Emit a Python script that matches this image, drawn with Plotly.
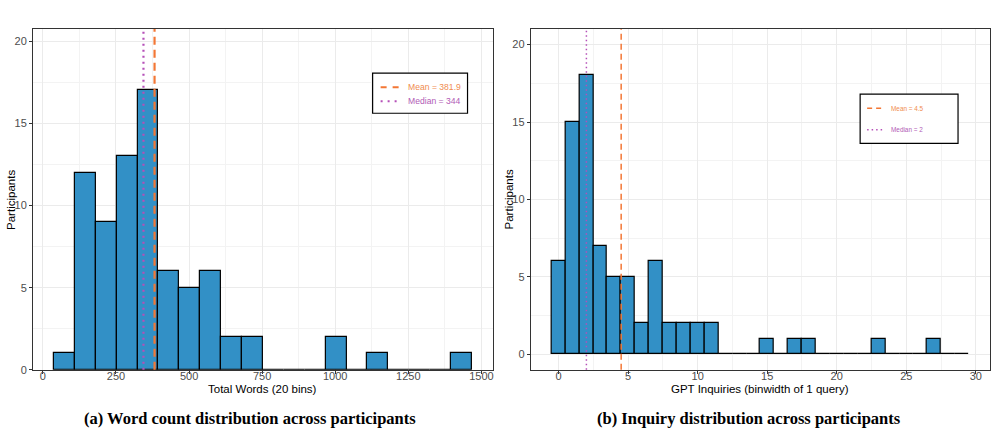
import plotly.graph_objects as go

# ---------------- data ----------------
word_bin_start = 37.6
word_bin_width = 71.5
word_counts = [1, 12, 9, 13, 17, 6, 5, 6, 2, 2, 0, 0, 0, 2, 0, 1, 0, 0, 0, 1]
word_mean = 381.9
word_median = 344

inq_bin_start = -0.5
inq_bin_width = 1
inq_counts = [6, 15, 18, 7, 5, 5, 2, 6, 2, 2, 2, 2, 0, 0, 0, 1, 0, 1, 1, 0,
              0, 0, 0, 1, 0, 0, 0, 1, 0, 0]
inq_mean = 4.5
inq_median = 2

word_xticks = [0, 250, 500, 750, 1000, 1250, 1500]
inq_xticks = [0, 5, 10, 15, 20, 25, 30]
y_ticks = [0, 5, 10, 15, 20]

captions = ["(a) Word count distribution across participants",
            "(b) Inquiry distribution across participants"]
x_titles = ["Total Words (20 bins)", "GPT Inquiries (binwidth of 1 query)"]

# ---------------- style ----------------
W = 998
H_REF = 433      # reference design height (positions measured in it)
H = 440          # figure height
BAR = "#3290C6"
ORANGE = "#F37735"
ORANGE_TXT = "#F08C50"
PURPLE = "#B550B8"
PURPLE_TXT = "#B25BB6"
SANS = "Liberation Sans, Arial, sans-serif"
SERIF = "Liberation Serif, Times New Roman, serif"


def px(x):
    return x / W


def py(y):
    return 1 - y / H_REF


def centers(start, width, n):
    return [start + width * (i + 0.5) for i in range(n)]


fig = go.Figure()

fig.add_trace(go.Bar(
    x=centers(word_bin_start, word_bin_width, len(word_counts)), y=word_counts,
    width=word_bin_width, marker=dict(color=BAR, line=dict(color="black", width=1.2)),
    xaxis="x", yaxis="y", showlegend=False))

fig.add_trace(go.Bar(
    x=centers(inq_bin_start, inq_bin_width, len(inq_counts)), y=inq_counts,
    width=inq_bin_width, marker=dict(color=BAR, line=dict(color="black", width=1.2)),
    xaxis="x2", yaxis="y2", showlegend=False))

shapes = []
shapes.append(dict(type="line", xref="x", yref="y domain", x0=word_median, x1=word_median,
                   y0=0, y1=1, line=dict(color=PURPLE, width=2.2, dash="2px,4px"), layer="above"))
shapes.append(dict(type="line", xref="x", yref="y domain", x0=word_mean, x1=word_mean,
                   y0=0, y1=1, line=dict(color=ORANGE, width=2.2, dash="8px,5px"), layer="above"))
shapes.append(dict(type="line", xref="x2", yref="y2 domain", x0=inq_median, x1=inq_median,
                   y0=0, y1=1, line=dict(color=PURPLE, width=1.5, dash="1.5px,3px"), layer="above"))
shapes.append(dict(type="line", xref="x2", yref="y2 domain", x0=inq_mean, x1=inq_mean,
                   y0=0, y1=1, line=dict(color=ORANGE, width=1.5, dash="6px,4px"), layer="above"))

annotations = []


def legend_box(x0, y0, x1, y1, entries, lx0, lx1, tx, fs, lw):
    shapes.append(dict(type="rect", xref="paper", yref="paper", x0=px(x0), x1=px(x1),
                       y0=py(y1), y1=py(y0), line=dict(color="black", width=1.2),
                       fillcolor="white", layer="above"))
    for (yy, col, tcol, dash, label) in entries:
        shapes.append(dict(type="line", xref="paper", yref="paper", x0=px(lx0), x1=px(lx1),
                           y0=py(yy), y1=py(yy), line=dict(color=col, width=lw, dash=dash),
                           layer="above"))
        annotations.append(dict(x=px(tx), y=py(yy), xref="paper", yref="paper", text=label,
                                showarrow=False, xanchor="left", yanchor="middle",
                                font=dict(family=SANS, size=fs, color=tcol)))


legend_box(373, 73, 468, 113,
           [(87, ORANGE, ORANGE_TXT, "6px,6px", f"Mean = {word_mean}"),
            (101, PURPLE, PURPLE_TXT, "2px,5px", f"Median = {word_median}")],
           381, 401, 406, 8.6, 2)
legend_box(861, 94, 959, 143,
           [(108, ORANGE, ORANGE_TXT, "5px,4px", f"Mean = {inq_mean}"),
            (129.5, PURPLE, PURPLE_TXT, "1.5px,3px", f"Median = {inq_median}")],
           868, 884, 890, 6.4, 1.5)

for cx, t in zip([263, 761], x_titles):
    annotations.append(dict(x=px(cx), y=py(388), xref="paper", yref="paper", text=t,
                            showarrow=False, xanchor="center", yanchor="middle",
                            font=dict(family=SANS, size=11.5, color="black")))
for cx in [11.5, 509.5]:
    annotations.append(dict(x=px(cx), y=py(199), xref="paper", yref="paper", text="Participants",
                            showarrow=False, xanchor="center", yanchor="middle", textangle=-90,
                            font=dict(family=SANS, size=11.5, color="black")))
for cx, t in zip([250, 750], captions):
    annotations.append(dict(x=px(cx), y=py(418), xref="paper", yref="paper", text=f"<b>{t}</b>",
                            showarrow=False, xanchor="center", yanchor="middle",
                            font=dict(family=SERIF, size=16.5, color="black")))

axis_common = dict(showline=True, mirror=True, linecolor="#333333", linewidth=1,
                   ticks="outside", ticklen=3, tickcolor="#333333", tickwidth=1,
                   showgrid=True, gridcolor="#EBEBEB", gridwidth=1, zeroline=False,
                   tickfont=dict(family=SANS, size=11, color="#4D4D4D"))
minor = dict(showgrid=True, gridcolor="#F3F3F3", gridwidth=0.7)

fig.update_layout(
    width=W, height=H, autosize=False,
    margin=dict(l=0, r=0, t=0, b=0),
    paper_bgcolor="white", plot_bgcolor="white",
    bargap=0, showlegend=False,
    xaxis=dict(domain=[px(33), px(493)], range=[-34, 1538], tickvals=word_xticks,
               minor=dict(dtick=125, tick0=0, **minor), ticklabelstandoff=-7,
               anchor="y", **axis_common),
    yaxis=dict(domain=[py(369), py(29)], range=[0, 20.73], tickvals=y_ticks,
               minor=dict(dtick=2.5, tick0=0, **minor), anchor="x", **axis_common),
    xaxis2=dict(domain=[px(531.3), px(990.7)], range=[-2, 31], tickvals=inq_xticks,
                minor=dict(dtick=2.5, tick0=0, **minor), ticklabelstandoff=-7,
                anchor="y2", **axis_common),
    yaxis2=dict(domain=[py(369), py(29)], range=[-1, 21], tickvals=y_ticks,
                minor=dict(dtick=2.5, tick0=0, **minor), anchor="x2", **axis_common),
    shapes=shapes, annotations=annotations,
)

fig.write_html("out.html")
